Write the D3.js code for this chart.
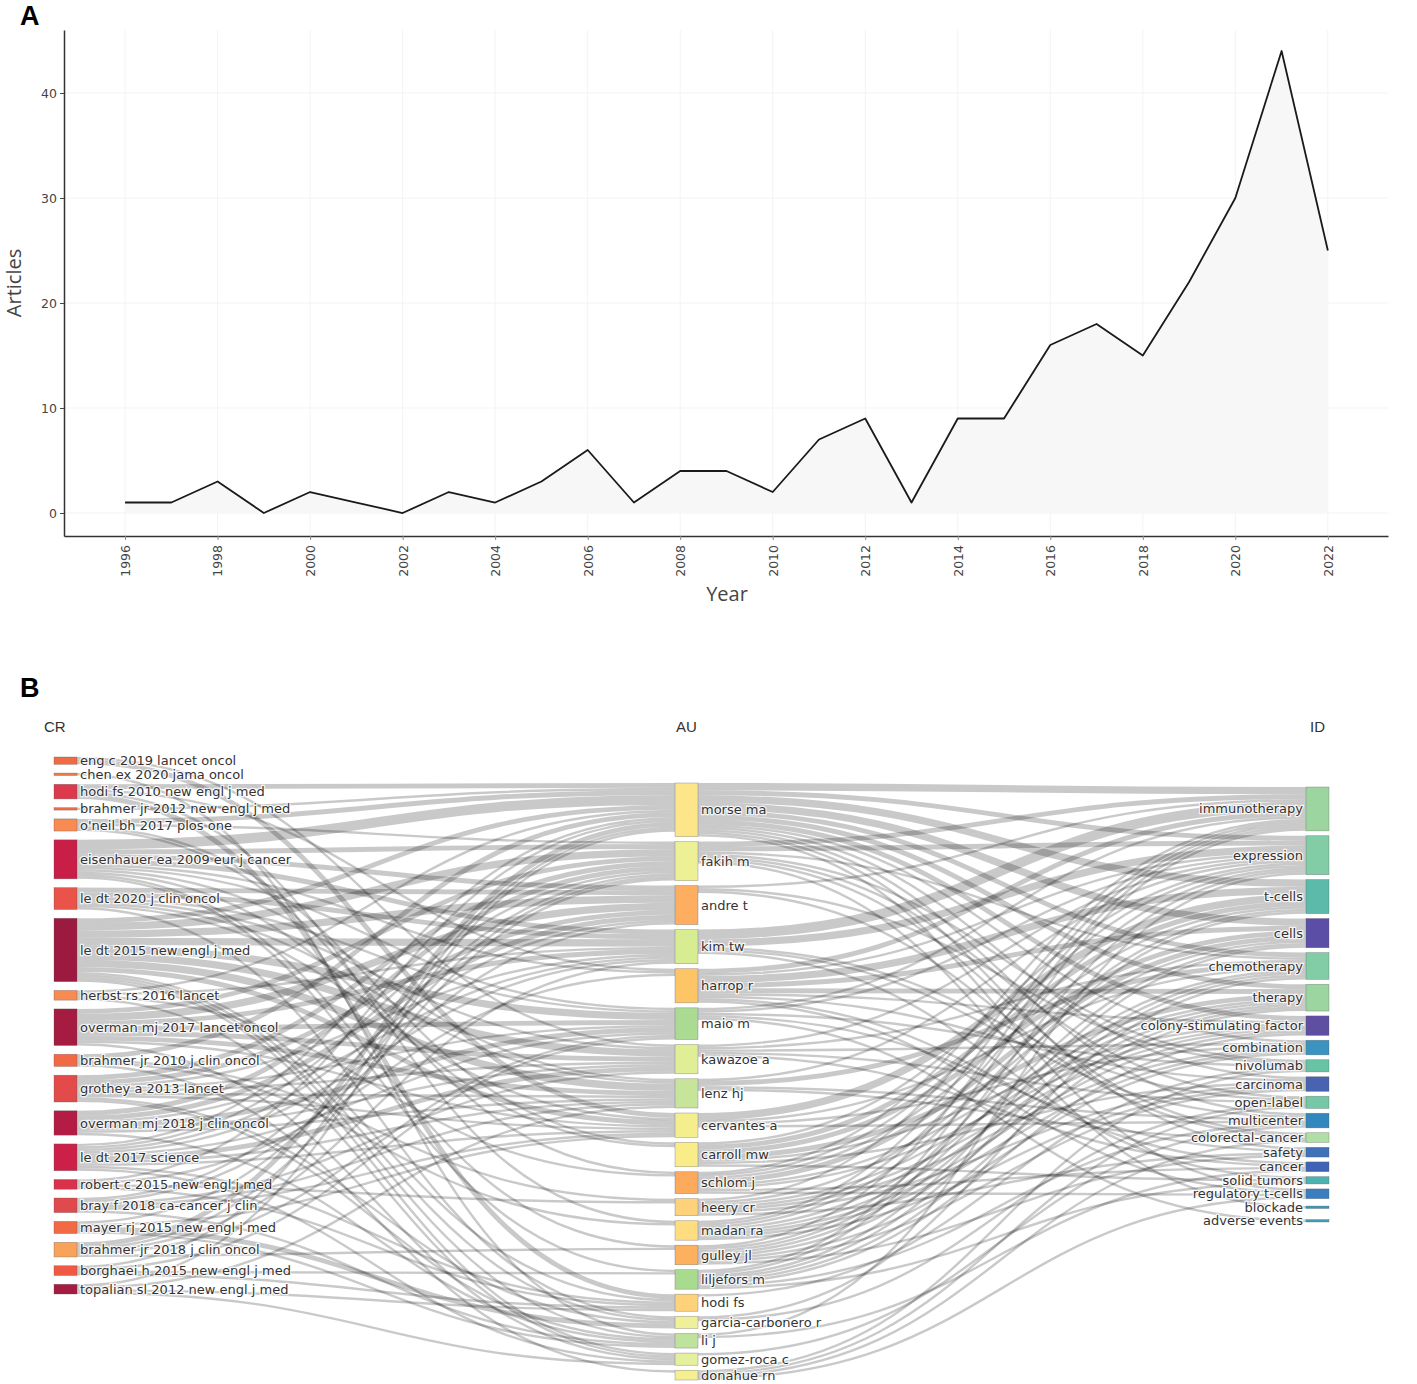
<!DOCTYPE html>
<html>
<head>
<meta charset="utf-8">
<script src="https://cdn.jsdelivr.net/npm/d3@7"></script>
<style>
body { margin: 0; background: #fff; }
svg { display: block; }
</style>
</head>
<body>
<svg width="1417" height="1384"></svg>
<script>
// panel A data
var years = [1996, 1997, 1998, 1999, 2000, 2001, 2002, 2003, 2004, 2005, 2006, 2007, 2008, 2009,
    2010, 2011, 2012, 2013, 2014, 2015, 2016, 2017, 2018, 2019, 2020, 2021, 2022];
var articles = [1, 1, 3, 0, 2, 1, 0, 2, 1, 3, 6, 1, 4, 4, 2, 7, 9, 1, 9, 9, 16, 18, 15, 22, 30, 44, 25];
var yTicks = [0, 10, 20, 30, 40];
var xTicks = d3.range(1996, 2023, 2);

// panel B data: three-field plot
var fieldNames = ['CR', 'AU', 'ID'];

var crNames = ['eng c 2019 lancet oncol', 'chen ex 2020 jama oncol', 'hodi fs 2010 new engl j med',
    'brahmer jr 2012 new engl j med', "o'neil bh 2017 plos one", 'eisenhauer ea 2009 eur j cancer',
    'le dt 2020 j clin oncol', 'le dt 2015 new engl j med', 'herbst rs 2016 lancet',
    'overman mj 2017 lancet oncol', 'brahmer jr 2010 j clin oncol', 'grothey a 2013 lancet',
    'overman mj 2018 j clin oncol', 'le dt 2017 science', 'robert c 2015 new engl j med',
    'bray f 2018 ca-cancer j clin', 'mayer rj 2015 new engl j med', 'brahmer jr 2018 j clin oncol',
    'borghaei h 2015 new engl j med', 'topalian sl 2012 new engl j med'];
var crColors = ['#f26a44', '#f07a45', '#dc3a4c', '#f26a44', '#f78b52', '#c81e47', '#ea5349', '#9c1a40',
    '#f78b52', '#a61b41', '#f26a44', '#e34b4b', '#b51c45', '#cc2049', '#d9314b', '#e04a4c',
    '#f26a44', '#f9a25b', '#f05a43', '#a61b41'];

var auNames = ['morse ma', 'fakih m', 'andre t', 'kim tw', 'harrop r', 'maio m', 'kawazoe a', 'lenz hj',
    'cervantes a', 'carroll mw', 'schlom j', 'heery cr', 'madan ra', 'gulley jl', 'liljefors m',
    'hodi fs', 'garcia-carbonero r', 'li j', 'gomez-roca c', 'donahue rn'];
var auColors = ['#fde58a', '#eef095', '#fdae61', '#d8ed92', '#fdc566', '#abdb93', '#e0ef96', '#c6e59a',
    '#f5ee8c', '#f9ec89', '#fdaa5c', '#fed27a', '#fedc80', '#fdb15f', '#a9db8f', '#fed27a',
    '#eef09a', '#bfe39c', '#e4f09b', '#f6ef8f'];

var idNames = ['immunotherapy', 'expression', 't-cells', 'cells', 'chemotherapy', 'therapy',
    'colony-stimulating factor', 'combination', 'nivolumab', 'carcinoma', 'open-label', 'multicenter',
    'colorectal-cancer', 'safety', 'cancer', 'solid tumors', 'regulatory t-cells', 'blockade', 'adverse events'];
var idColors = ['#9dd5a0', '#82cca6', '#5bbaa9', '#5a4ea6', '#82cca6', '#9dd5a0', '#5e4fa2', '#3d93c0',
    '#68c3a5', '#4a63b0', '#75c7a5', '#3288bd', '#afdfa4', '#3f72b8', '#3f63b5', '#4cb3b0',
    '#3a7ec0', '#3a96b8', '#40a0b8'];

// [cr index, au index, value]
var crAuLinks = [
    [0, 8, 2], [0, 6, 1],
    [1, 17, 1],
    [2, 0, 2], [2, 15, 2], [2, 4, 1], [2, 12, 1],
    [3, 0, 1],
    [4, 0, 2], [4, 1, 1], [4, 9, 1], [4, 10, 1],
    [5, 0, 4], [5, 1, 2], [5, 2, 2], [5, 3, 2], [5, 4, 1], [5, 5, 1], [5, 7, 1], [5, 9, 1], [5, 13, 1], [5, 14, 1],
    [6, 2, 2], [6, 3, 2], [6, 5, 1], [6, 6, 1], [6, 7, 1], [6, 8, 1], [6, 16, 1],
    [7, 0, 2], [7, 1, 3], [7, 2, 3], [7, 3, 3], [7, 5, 3], [7, 6, 3], [7, 7, 3], [7, 8, 2], [7, 15, 1], [7, 16, 1], [7, 17, 1], [7, 18, 1],
    [8, 0, 1], [8, 3, 1], [8, 18, 1], [8, 10, 1],
    [9, 1, 2], [9, 2, 3], [9, 3, 2], [9, 5, 2], [9, 6, 2], [9, 7, 2], [9, 8, 1], [9, 18, 1],
    [10, 0, 2], [10, 11, 1], [10, 12, 1], [10, 19, 1],
    [11, 1, 2], [11, 2, 2], [11, 3, 1], [11, 5, 1], [11, 6, 1], [11, 7, 1], [11, 8, 1], [11, 16, 1], [11, 17, 1],
    [12, 1, 2], [12, 2, 2], [12, 3, 1], [12, 5, 2], [12, 6, 1], [12, 7, 1], [12, 17, 1],
    [13, 0, 1], [13, 1, 1], [13, 2, 1], [13, 3, 1], [13, 5, 1], [13, 6, 2], [13, 7, 1], [13, 8, 1], [13, 15, 1], [13, 18, 1],
    [14, 0, 1], [14, 15, 1], [14, 4, 1], [14, 11, 1],
    [15, 1, 1], [15, 2, 1], [15, 6, 1], [15, 7, 1], [15, 8, 1], [15, 17, 1],
    [16, 1, 1], [16, 16, 2], [16, 8, 1], [16, 17, 1],
    [17, 0, 2], [17, 1, 1], [17, 3, 1], [17, 5, 1], [17, 13, 1],
    [18, 0, 1], [18, 5, 1], [18, 15, 1], [18, 14, 1],
    [19, 0, 1], [19, 18, 1], [19, 7, 1], [19, 15, 1]
];

// [au index, id index, value]
var auIdLinks = [
    [0, 0, 3], [0, 1, 2], [0, 2, 3], [0, 3, 3], [0, 4, 2], [0, 5, 2], [0, 6, 2], [0, 7, 1], [0, 9, 1], [0, 11, 1], [0, 13, 1], [0, 16, 1],
    [1, 0, 2], [1, 1, 2], [1, 4, 1], [1, 8, 1], [1, 10, 1], [1, 12, 1], [1, 17, 1],
    [2, 0, 1], [2, 8, 1], [2, 12, 1],
    [3, 0, 4], [3, 1, 3], [3, 10, 1], [3, 11, 1], [3, 15, 1],
    [4, 0, 2], [4, 2, 3], [4, 3, 2], [4, 5, 2], [4, 6, 1], [4, 1, 1], [4, 9, 1], [4, 14, 1], [4, 16, 1],
    [5, 0, 1], [5, 1, 1], [5, 8, 1], [5, 13, 1], [5, 18, 1],
    [6, 1, 1], [6, 4, 1], [6, 7, 1], [6, 10, 1], [6, 14, 1],
    [7, 1, 1], [7, 4, 2], [7, 12, 1], [7, 11, 1],
    [8, 2, 3], [8, 4, 1], [8, 11, 1], [8, 7, 1],
    [9, 2, 2], [9, 3, 2], [9, 6, 1], [9, 5, 2], [9, 1, 1], [9, 9, 1], [9, 15, 1],
    [10, 0, 1], [10, 3, 2], [10, 2, 1], [10, 5, 1], [10, 6, 1], [10, 1, 1], [10, 16, 1], [10, 14, 1],
    [11, 0, 1], [11, 3, 1], [11, 5, 1], [11, 6, 1], [11, 7, 1], [11, 9, 1], [11, 13, 1],
    [12, 0, 1], [12, 2, 1], [12, 5, 1], [12, 6, 1], [12, 1, 1], [12, 4, 1], [12, 7, 1], [12, 9, 1],
    [13, 0, 1], [13, 3, 1], [13, 2, 1], [13, 4, 1], [13, 5, 1], [13, 7, 1], [13, 9, 1], [13, 13, 1],
    [14, 0, 1], [14, 1, 1], [14, 3, 1], [14, 4, 1], [14, 5, 1], [14, 6, 1], [14, 11, 1], [14, 15, 1],
    [15, 8, 1],
    [16, 4, 1], [16, 10, 1],
    [17, 1, 1], [17, 14, 1],
    [18, 11, 1],
    [19, 16, 1], [19, 8, 1], [19, 10, 1], [19, 12, 1]
];

var svg = d3.select('svg');
var tickFont = 'DejaVu Sans, Verdana, sans-serif';
var titleFont = 'Open Sans, Liberation Sans, sans-serif';

// panel letters
svg.append('text').attr('x', 20).attr('y', 25).text('A')
    .attr('font-family', 'Liberation Sans, Arial, sans-serif').attr('font-weight', 'bold').attr('font-size', 27);
svg.append('text').attr('x', 20).attr('y', 697).text('B')
    .attr('font-family', 'Liberation Sans, Arial, sans-serif').attr('font-weight', 'bold').attr('font-size', 27);

// ********************************************************* panel A
var plot = { left: 64, right: 1388, top: 30, bottom: 536 };

var x = d3.scaleLinear()
    .domain([1994.68, 2023.3])
    .range([plot.left, plot.right]);

var y = d3.scaleLinear()
    .domain([-2.19, 46])
    .range([plot.bottom, plot.top]);

var panelA = svg.append('g');

panelA.selectAll('.vgrid')
    .data(xTicks)
    .enter().append('line')
    .attr('x1', d => x(d)).attr('x2', d => x(d))
    .attr('y1', plot.top).attr('y2', plot.bottom)
    .attr('stroke', '#f3f3f3').attr('stroke-width', 1);

panelA.selectAll('.hgrid')
    .data(yTicks)
    .enter().append('line')
    .attr('x1', plot.left).attr('x2', plot.right)
    .attr('y1', d => y(d)).attr('y2', d => y(d))
    .attr('stroke', '#f3f3f3').attr('stroke-width', 1);

var series = years.map((yr, i) => ({ year: yr, value: articles[i] }));

panelA.append('path')
    .datum(series)
    .attr('fill', '#f7f7f7')
    .attr('d', d3.area().x(d => x(d.year)).y0(y(0)).y1(d => y(d.value)));

panelA.append('path')
    .datum(series)
    .attr('fill', 'none')
    .attr('stroke', '#1a1a1a')
    .attr('stroke-width', 1.8)
    .attr('stroke-linejoin', 'round')
    .attr('d', d3.line().x(d => x(d.year)).y(d => y(d.value)));

var xAxis = panelA.append('g')
    .attr('transform', `translate(0,${plot.bottom})`)
    .call(d3.axisBottom(x).tickValues(xTicks).tickFormat(d3.format('d')).tickSizeInner(4).tickSizeOuter(0).tickPadding(4));
xAxis.select('.domain').attr('stroke', '#333').attr('stroke-width', 1.5);
xAxis.selectAll('.tick line').attr('stroke', '#888');
xAxis.selectAll('.tick text')
    .attr('font-family', tickFont).attr('font-size', 12.5).attr('fill', '#444')
    .attr('transform', 'rotate(-90)')
    .attr('text-anchor', 'end')
    .attr('x', -9).attr('y', 0).attr('dy', '0.35em');

var yAxis = panelA.append('g')
    .attr('transform', `translate(${plot.left},0)`)
    .call(d3.axisLeft(y).tickValues(yTicks).tickSizeInner(4).tickSizeOuter(0).tickPadding(3));
yAxis.select('.domain').attr('stroke', '#333').attr('stroke-width', 1.5);
yAxis.selectAll('.tick line').attr('stroke', '#444');
yAxis.selectAll('.tick text')
    .attr('font-family', tickFont).attr('font-size', 12.5).attr('fill', '#444');

panelA.append('text')
    .attr('x', 727).attr('y', 601)
    .attr('text-anchor', 'middle')
    .attr('font-family', titleFont).attr('font-size', 20).attr('fill', '#444')
    .text('Year');

panelA.append('text')
    .attr('transform', 'translate(21,283) rotate(-90)')
    .attr('text-anchor', 'middle')
    .attr('font-family', titleFont).attr('font-size', 20).attr('fill', '#444')
    .text('Articles');

// ********************************************************* panel B
var nodeWidth = 23;
var minLabelGap = 13.5;   // keep label centres at least one text line apart
var columns = [
    { names: crNames, colors: crColors, x0: 54, top: 757, bottom: 1294 },
    { names: auNames, colors: auColors, x0: 675, top: 783, bottom: 1380 },
    { names: idNames, colors: idColors, x0: 1306, top: 787, bottom: 1222 }
];

var nodes = columns.map((col, c) => col.names.map((name, i) => ({
    name, col: c, color: col.colors[i], inSum: 0, outSum: 0, sourceLinks: [], targetLinks: []
})));

var links = [];
function addLinks(list, from, to) {
    list.forEach(([s, t, v]) => {
        var link = { source: nodes[from][s], target: nodes[to][t], value: v };
        link.source.sourceLinks.push(link);
        link.target.targetLinks.push(link);
        link.source.outSum += v;
        link.target.inSum += v;
        links.push(link);
    });
}
addLinks(crAuLinks, 0, 1);
addLinks(auIdLinks, 1, 2);

nodes.forEach(col => col.forEach(n => n.value = Math.max(n.inSum, n.outSum)));

// vertical scale taken from the middle (tallest) column
var auPad = 5;
var mid = columns[1];
var ky = (mid.bottom - mid.top - (auNames.length - 1) * auPad) / d3.sum(nodes[1], n => n.value);

function gapsFor(heights, pad) {
    return heights.slice(1).map((h, i) => Math.max(pad, minLabelGap - (heights[i] + h) / 2));
}

columns.forEach((col, c) => {
    var list = nodes[c];
    var heights = list.map(n => n.value * ky);
    var span = col.bottom - col.top - d3.sum(heights);
    // find the base padding that makes the column fill its span
    var lo = 0, hi = 100;
    for (var k = 0; k < 60; k++) {
        var p = (lo + hi) / 2;
        if (d3.sum(gapsFor(heights, p)) > span) hi = p; else lo = p;
    }
    var gaps = gapsFor(heights, lo);
    var cursor = col.top;
    list.forEach((n, i) => {
        if (i > 0) cursor += gaps[i - 1];
        n.x0 = col.x0;
        n.x1 = col.x0 + nodeWidth;
        n.y0 = cursor;
        n.y1 = cursor + heights[i];
        cursor = n.y1;
    });
});

links.forEach(l => l.width = l.value * ky);
nodes.forEach(col => col.forEach(n => {
    var yy = n.y0;
    n.sourceLinks.sort((a, b) => a.target.y0 - b.target.y0).forEach(l => {
        l.y0 = yy + l.width / 2;
        yy += l.width;
    });
    yy = n.y0;
    n.targetLinks.sort((a, b) => a.source.y0 - b.source.y0).forEach(l => {
        l.y1 = yy + l.width / 2;
        yy += l.width;
    });
}));

var panelB = svg.append('g');

panelB.append('g')
    .attr('fill', 'none')
    .selectAll('path')
    .data(links)
    .enter().append('path')
    .attr('d', d3.linkHorizontal()
        .source(d => [d.source.x1, d.y0])
        .target(d => [d.target.x0, d.y1]))
    .attr('stroke', '#000')
    .attr('stroke-opacity', 0.21)
    .attr('stroke-width', d => Math.max(1, d.width));

var allNodes = nodes.flat();

panelB.append('g')
    .selectAll('rect')
    .data(allNodes)
    .enter().append('rect')
    .attr('x', d => d.x0)
    .attr('y', d => d.y0)
    .attr('width', nodeWidth)
    .attr('height', d => Math.max(1.5, d.y1 - d.y0))
    .attr('fill', d => d.color)
    .attr('stroke', '#555')
    .attr('stroke-opacity', 0.5)
    .attr('stroke-width', 0.6);

panelB.append('g')
    .selectAll('text')
    .data(allNodes)
    .enter().append('text')
    .attr('x', d => d.col === 2 ? d.x0 - 3 : d.x1 + 3)
    .attr('y', d => (d.y0 + d.y1) / 2)
    .attr('dy', '0.35em')
    .attr('text-anchor', d => d.col === 2 ? 'end' : 'start')
    .attr('font-family', tickFont)
    .attr('font-size', 13)
    .attr('fill', '#333')
    .attr('stroke', '#fff')
    .attr('stroke-width', 2.5)
    .attr('stroke-opacity', 0.8)
    .attr('paint-order', 'stroke')
    .text(d => d.name);

panelB.selectAll('.field')
    .data(fieldNames)
    .enter().append('text')
    .attr('x', (d, i) => i === 0 ? columns[i].x0 - 10 : columns[i].x0 + nodeWidth / 2)
    .attr('y', 732)
    .attr('text-anchor', (d, i) => i === 0 ? 'start' : 'middle')
    .attr('font-family', 'Liberation Sans, Arial, sans-serif')
    .attr('font-size', 15)
    .attr('fill', '#333')
    .text(d => d);
</script>
</body>
</html>
